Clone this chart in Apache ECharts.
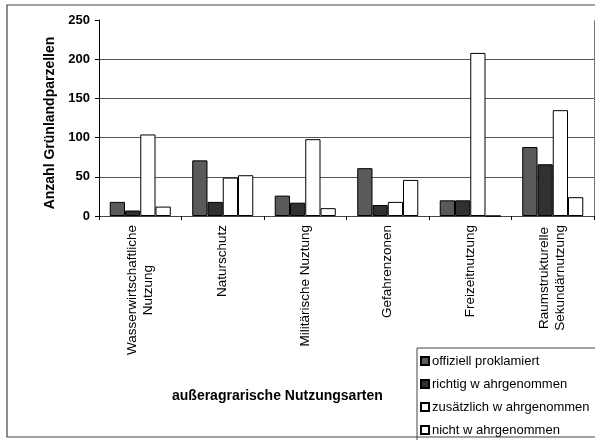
<!DOCTYPE html>
<html><head><meta charset="utf-8">
<script src="https://cdn.jsdelivr.net/npm/echarts@6/dist/echarts.min.js"></script>
<style>html,body{margin:0;padding:0;background:#fff}#c{width:595px;height:440px}</style>
</head><body><div id="c"></div>
<script>
var categories = ['Wasserwirtschaftliche\nNutzung','Naturschutz','Militärische Nuztung','Gefahrenzonen','Freizeitnutzung','Raumstrukturelle\nSekundärnutzung'];
var seriesNames = ['offiziell proklamiert','richtig w ahrgenommen','zusätzlich w ahrgenommen','nicht w ahrgenommen'];
var offiziell = [18, 71, 26, 61, 20, 88];
var richtig = [7, 18, 17, 14, 20, 66];
var zusaetzlich = [104, 49, 98, 18, 208, 135];
var nicht = [12, 52, 10, 46, 0, 24];
var yTicks = [0, 50, 100, 150, 200, 250];
var xTitle = 'außeragrarische Nutzungsarten';
var yTitle = 'Anzahl Grünlandparzellen';

var fills = ['#5a5a5a', '#303030', '#ffffff', '#ffffff'];
var values = [offiziell, richtig, zusaetzlich, nicht];
var FONT = 'Liberation Sans, Arial, sans-serif';

var chart = echarts.init(document.getElementById('c'));
chart.setOption({
  animation: false,
  backgroundColor: '#fff',
  grid: {left: 99, right: 1, top: 20, bottom: 224},
  graphic: [
    {type: 'rect', shape: {x: 7, y: 5, width: 620, height: 432}, style: {fill: 'none', stroke: '#444', lineWidth: 1.2}, z: -10},
    {type: 'text', left: 172, top: 389, style: {text: xTitle, font: 'bold 14px ' + FONT, fill: '#000'}}
  ],
  legend: {
    orient: 'vertical', left: 417, top: 348, height: 120,
    padding: [6, 60, 6, 3],
    borderColor: '#444', borderWidth: 1,
    itemWidth: 8, itemHeight: 8, itemGap: 9,
    icon: 'rect',
    textStyle: {fontFamily: FONT, fontSize: 13, color: '#000', lineHeight: 14, padding: [0,0,0,-2]},
    data: seriesNames
  },
  xAxis: [{
    type: 'category', data: categories,
    axisLine: {lineStyle: {color: '#000', width: 1}},
    axisTick: {show: true, length: 4, lineStyle: {color: '#000'}},
    axisLabel: {
      rotate: 90, margin: 9, interval: 0,
      fontFamily: FONT, fontSize: 13.5, color: '#000',
      formatter: function (v) { return v.split('\n').map(function (s) { return '{c|' + s + '}'; }).join('\n'); },
      rich: {c: {align: 'center', fontFamily: FONT, fontSize: 13.5, color: '#000', lineHeight: 16}}
    }
  }, {
    type: 'category', data: categories, position: 'top',
    axisLine: {lineStyle: {color: '#555', type: 'dotted', width: 1}},
    axisTick: {show: false}, axisLabel: {show: false}
  }],
  yAxis: [{
    type: 'value', min: 0, max: 250, interval: 50,
    name: yTitle, nameLocation: 'middle', nameGap: 40, nameRotate: 90,
    nameTextStyle: {fontFamily: FONT, fontSize: 14, fontWeight: 'bold', color: '#000', padding: [0, 10, 0, 0]},
    axisLine: {show: true, lineStyle: {color: '#000', width: 1}},
    axisTick: {show: true, length: 4, lineStyle: {color: '#000'}},
    axisLabel: {fontFamily: FONT, fontSize: 13, fontWeight: 'bold', color: '#000', margin: 9,
      formatter: function (v) { return yTicks.indexOf(v) >= 0 ? String(v) : ''; }},
    splitLine: {show: true, lineStyle: {color: ['#555','#555','#555','#555','#555','rgba(0,0,0,0)'], width: 1}}
  }, {
    type: 'value', min: 0, max: 250, interval: 50, position: 'right',
    axisLine: {show: true, lineStyle: {color: '#555', type: 'dotted'}},
    axisTick: {show: false}, axisLabel: {show: false}, splitLine: {show: false}
  }],
  series: seriesNames.map(function (n, i) {
    return {
      name: n, type: 'bar', data: values[i],
      barGap: '0%', barCategoryGap: '26%',
      itemStyle: {color: fills[i], borderColor: '#000', borderWidth: 1}
    };
  })
});
</script></body></html>
